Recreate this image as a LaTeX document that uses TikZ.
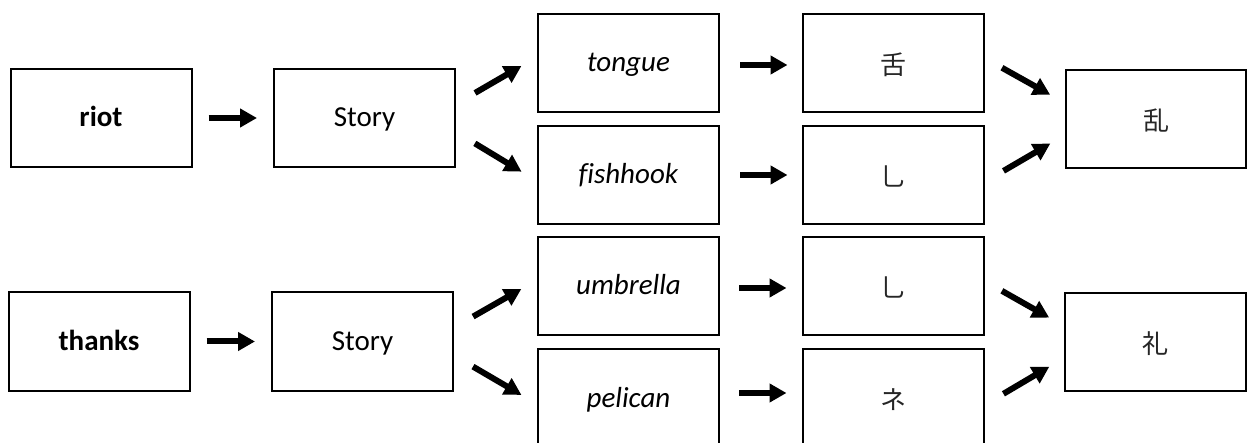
\documentclass[tikz,border=0pt]{standalone}
\usepackage{fontspec}
\setmainfont{Carlito}[Ligatures=NoCommon]
\newfontfamily\cjk{Noto Sans CJK JP}
\usetikzlibrary{arrows.meta,calc}
\tikzset{
  box/.style={draw=black, line width=2pt, minimum width=181pt, minimum height=98pt, inner sep=0pt, text height=18pt, text depth=0pt, font=\fontsize{29}{34}\selectfont},
  cjkbox/.style={box, text height=23pt, text depth=0pt, font=\cjk\fontsize{26}{30}\selectfont, text=black!85},
  arr/.style={line width=6pt, -{Triangle[length=17pt,width=18pt]}},
}
\begin{document}
\begin{tikzpicture}[x=1pt,y=-1pt]
\clip (0,0) rectangle (1247,443);
\fill[white] (0,0) rectangle (1247,443);
% top row
\node[box] (riot) at (101,118) {\textbf{riot}};
\node[box] (story1) at (364.5,118) {Story};
\node[box] (tongue) at (628.5,63) {\textit{tongue}};
\node[box] (fishhook) at (628.5,175) {\textit{fishhook}};
\node[cjkbox] (she) at (893,63) {舌};
\node[cjkbox] (yia) at (893,175) {乚};
\node[cjkbox, minimum width=180pt] (luan) at (1156,119) {乱};
% bottom row
\node[box] (thanks) at (99,341.5) {\textbf{thanks}};
\node[box] (story2) at (362.5,341.5) {Story};
\node[box] (umbrella) at (628.5,286) {\textit{umbrella}};
\node[box] (pelican) at (628.5,398) {\textit{pelican}};
\node[cjkbox] (yib) at (893,286) {乚};
\node[cjkbox] (ne) at (893,398) {ネ};
\node[cjkbox, minimum width=181pt] (li) at (1155.5,342) {礼};
% arrows top
\draw[arr, shorten <=16pt, shorten >=16pt] (riot.east) -- (story1.west);
\draw[arr, shorten <=22pt, shorten >=18pt] ([yshift=14pt]story1.east) -- ([yshift=6pt]tongue.west);
\draw[arr, shorten <=22pt, shorten >=18pt] ([yshift=-14pt]story1.east) -- ([yshift=-6pt]fishhook.west);
\draw[arr, shorten <=20pt, shorten >=14pt] ([yshift=-2pt]tongue.east) -- ([yshift=-2pt]she.west);
\draw[arr, shorten <=20pt, shorten >=14pt] (fishhook.east) -- (yia.west);
\draw[arr, shorten <=20pt, shorten >=17pt] ([yshift=5pt]she.east) -- ([yshift=16pt]luan.west);
\draw[arr, shorten <=22pt, shorten >=17pt] ([yshift=-7pt]yia.east) -- ([yshift=-16pt]luan.west);
% arrows bottom
\draw[arr, shorten <=16pt, shorten >=16pt] (thanks.east) -- (story2.west);
\draw[arr, shorten <=22pt, shorten >=18pt] ([yshift=14pt]story2.east) -- ([yshift=6pt]umbrella.west);
\draw[arr, shorten <=22pt, shorten >=18pt] ([yshift=-14pt]story2.east) -- ([yshift=-6pt]pelican.west);
\draw[arr, shorten <=19pt, shorten >=15pt] ([yshift=-2pt]umbrella.east) -- ([yshift=-2pt]yib.west);
\draw[arr, shorten <=19pt, shorten >=15pt] ([yshift=5pt]pelican.east) -- ([yshift=5pt]ne.west);
\draw[arr, shorten <=20pt, shorten >=17pt] ([yshift=5pt]yib.east) -- ([yshift=16pt]li.west);
\draw[arr, shorten <=22pt, shorten >=17pt] ([yshift=-7pt]ne.east) -- ([yshift=-16pt]li.west);
\end{tikzpicture}
\end{document}
